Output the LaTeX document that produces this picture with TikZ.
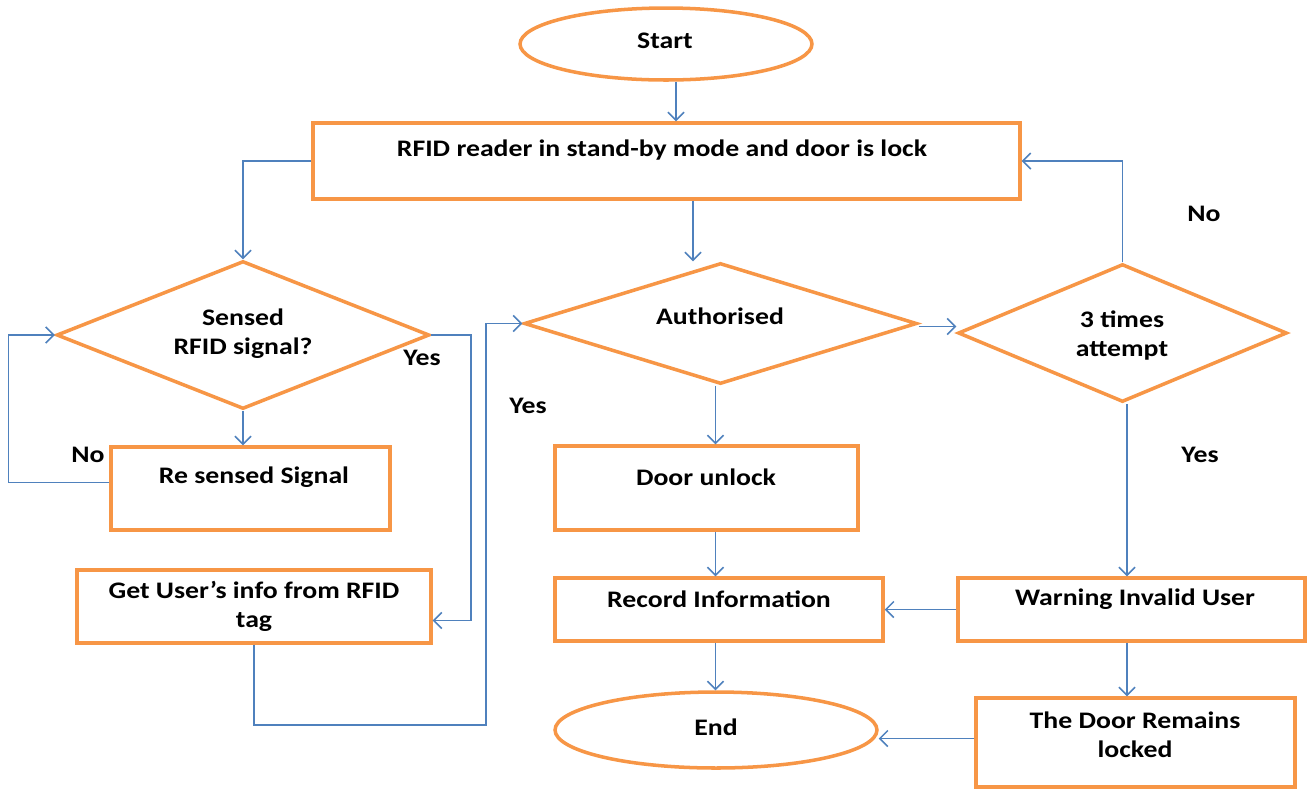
\documentclass[tikz,border=0pt]{standalone}
\usepackage{fontspec}
\setmainfont{Carlito}
\usetikzlibrary{arrows.meta,shapes.geometric,calc}
\definecolor{boxorange}{RGB}{247,150,70}
\definecolor{lineblue}{RGB}{79,129,189}
\begin{document}
\begin{tikzpicture}[x=0.02cm,y=-0.02cm,
  box/.style={draw=boxorange,line width=2pt,rectangle,inner sep=0pt,fill=white},
  oval/.style={draw=boxorange,line width=2pt,ellipse,inner sep=0pt,fill=white},
  dia/.style={draw=boxorange,line width=2pt,diamond,inner sep=0pt,fill=white},
  txt/.style={font=\bfseries\fontsize{13.5}{16.5}\selectfont,xscale=1.17,transform shape,align=center,inner sep=0pt,text=black},
  arr/.style={draw=lineblue,line width=0.85pt,-{Straight Barb[length=0.16cm,width=0.32cm]}},
  ln/.style={draw=lineblue,line width=0.85pt}]
\useasboundingbox (0,0) rectangle (1308,789);
% shapes
\node[oval,minimum width=5.84cm,minimum height=1.44cm] (start) at (666,44) {};
\node[box,minimum width=14.14cm,minimum height=1.52cm] (rfid) at (666.5,161) {};
\node[dia,minimum width=7.46cm,minimum height=2.96cm] (sensed) at (243,335) {};
\node[box,minimum width=5.58cm,minimum height=1.66cm] (resensed) at (250.5,488.5) {};
\node[box,minimum width=7.08cm,minimum height=1.46cm] (getuser) at (254,606.5) {};
\node[dia,minimum width=7.86cm,minimum height=2.42cm] (auth) at (720.5,323.5) {};
\node[dia,minimum width=6.58cm,minimum height=2.76cm] (three) at (1122.5,333) {};
\node[box,minimum width=6.06cm,minimum height=1.68cm] (door) at (706.5,488) {};
\node[box,minimum width=6.56cm,minimum height=1.26cm] (record) at (719,609.5) {};
\node[box,minimum width=6.94cm,minimum height=1.26cm] (warning) at (1131.5,609.5) {};
\node[box,minimum width=6.38cm,minimum height=1.78cm] (remains) at (1135.5,742.5) {};
\node[oval,minimum width=6.44cm,minimum height=1.52cm] (end) at (716,730) {};
% texts
\node[txt] (startT) at (665,41) {Start};
\node[txt] (rfidT) at (662,150) {RFID reader in stand-by mode and door is lock};
\node[txt] (sensedT) at (243,334) {Sensed\\RFID signal?};
\node[txt] (resensedT) at (254,477) {Re sensed Signal};
\node[txt] (getuserT) at (254,606) {Get User’s info from RFID\\tag};
\node[txt] (authT) at (720,316) {Authorised};
\node[txt] (threeT) at (1122,336) {3 times\\attempt};
\node[txt] (doorT) at (706,477) {Door unlock};
\node[txt] (recordT) at (719,599) {Record Information};
\node[txt] (warningT) at (1135,599) {Warning Invalid User};
\node[txt] (remainsT) at (1135,735) {The Door Remains\\locked};
\node[txt] (endT) at (716,727) {End};
% labels
\node[txt] (yes1) at (422,358) {Yes};
\node[txt] (no1) at (88,455) {No};
\node[txt] (yes2) at (528,406) {Yes};
\node[txt] (no2) at (1204,214) {No};
\node[txt] (yes3) at (1200,455) {Yes};
% connectors
\draw[arr] ([xshift=0.2cm]start.south) -- ([xshift=0.2cm]start.south |- rfid.north);
\draw[arr] (rfid.west) -| (sensed.north);
\draw[arr] (sensed.south) -- (sensed.south |- resensed.north);
\draw[arr] ([yshift=0.12cm]resensed.west) -- ++(-101,0) |- (sensed.west);
\draw[arr] (sensed.east) -- ++(40,0) |- ([yshift=-0.28cm]getuser.east);
\draw[arr] (getuser.south) -- ++(0,80) -- ++(232,0) |- (auth.west);
\draw[arr] ([xshift=0.53cm]rfid.south) -- ([xshift=0.53cm]rfid.south |- auth.north);
\draw[arr] ([yshift=-0.06cm]auth.east) -- ([yshift=-0.06cm]auth.east -| three.west);
\draw[arr] (three.north) |- (rfid.east);
\draw[arr] ([xshift=0.09cm]three.south) -- ([xshift=0.09cm]three.south |- warning.north);
\draw[arr] ([xshift=-0.1cm]auth.south) -- ([xshift=-0.1cm]auth.south |- door.north);
\draw[arr] ([xshift=-0.1cm]auth.south |- door.south) -- ([xshift=-0.1cm]auth.south |- record.north);
\draw[arr] ([xshift=-0.1cm]auth.south |- record.south) -- ([xshift=-0.1cm]auth.south |- end.north);
\draw[arr] (warning.west) -- (record.east);
\draw[arr] ([xshift=0.09cm]three.south |- warning.south) -- ([xshift=0.09cm]three.south |- remains.north);
\draw[arr] ([yshift=0.08cm]remains.west) -- ([yshift=0.08cm]remains.west -| end.east);
\end{tikzpicture}
\end{document}
